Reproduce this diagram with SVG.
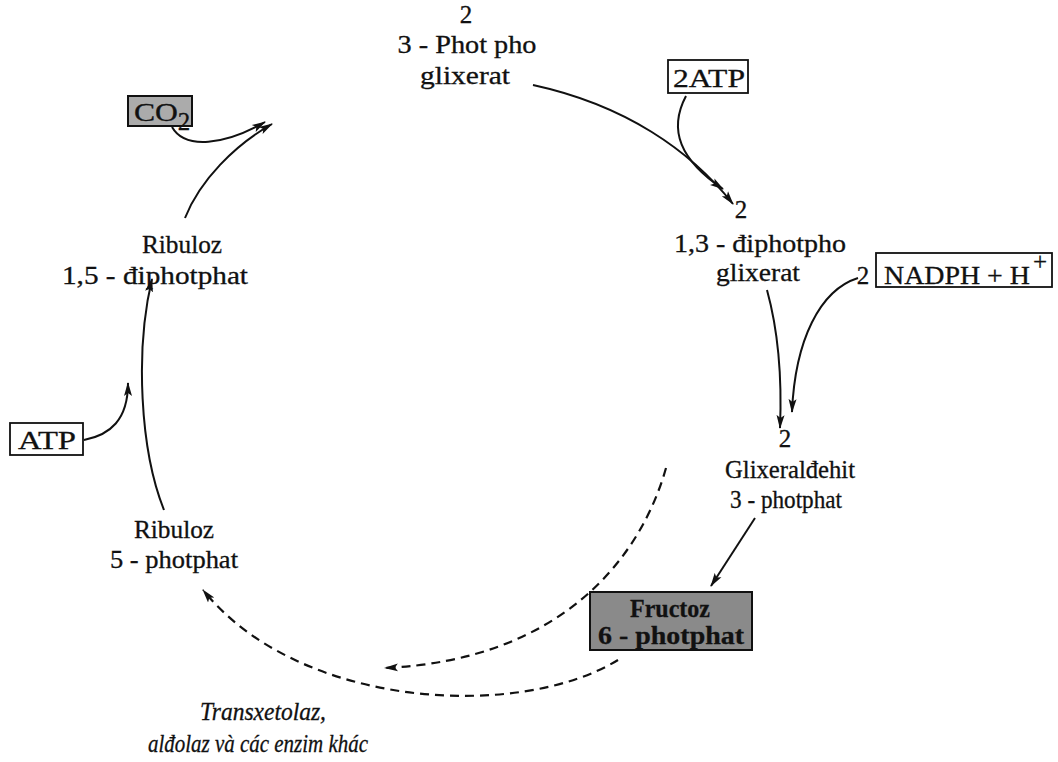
<svg xmlns="http://www.w3.org/2000/svg" width="1058" height="762" viewBox="0 0 1058 762">
  <style>
    .t { font-family: "Liberation Serif", "Times New Roman", serif; font-size: 25px; fill: #111; stroke: #111; stroke-width: 0.3; text-anchor: middle; }
    .it { font-style: italic; font-size: 25px; }
    .box { fill: none; stroke: #111; stroke-width: 1.8; }
    .gray { fill: #ababab; stroke: #111; stroke-width: 2; }
    .dark { fill: #8a8a8a; stroke: #111; stroke-width: 2; }
    .ln { fill: none; stroke: #111; stroke-width: 2; marker-end: url(#ah); }
    .dash { fill: none; stroke: #111; stroke-width: 2.2; stroke-dasharray: 9 6; marker-end: url(#ah); }
  </style>
  <defs>
    <marker id="ah" markerUnits="userSpaceOnUse" markerWidth="15" markerHeight="10" refX="13" refY="5" orient="auto">
      <path d="M0,1 L14,5 L0,9 L3,5 z" fill="#111"/>
    </marker>
  </defs>
  <rect width="1058" height="762" fill="#fff"/>

  <!-- connectors -->
  <g id="connectors">
    <path class="ln" d="M185,218 C200,180 235,145 272,124"/>
    <path class="ln" d="M533,85 C625,105 690,150 733,204"/>
    <path class="ln" d="M767,290 C778,330 782,380 780,428"/>
    <path class="ln" d="M858,278 C820,290 795,340 792,412"/>
    <path class="ln" d="M686,96 C668,130 680,160 723,189"/>
    <path class="ln" d="M172,127 C185,150 225,145 265,122"/>
    <path class="ln" d="M755,518 L711,586"/>
    <path class="ln" d="M164,510 C140,450 135,350 152,279"/>
    <path class="ln" d="M84,440 C110,435 128,420 128,383"/>
    <path class="dash" d="M666,468 C640,560 560,660 385,668"/>
    <path class="dash" d="M618,660 C520,720 300,710 203,590"/>
  </g>

  <!-- cycle intermediates -->
  <g id="pga">
    <text class="t" x="466" y="23">2</text>
    <text class="t" x="467" y="53" textLength="139" lengthAdjust="spacingAndGlyphs">3 - Phot pho</text>
    <text class="t" x="465" y="84" textLength="90" lengthAdjust="spacingAndGlyphs">glixerat</text>
  </g>
  <g id="bpg">
    <text class="t" x="741" y="218">2</text>
    <text class="t" x="760" y="252" textLength="172" lengthAdjust="spacingAndGlyphs">1,3 - điphotpho</text>
    <text class="t" x="758" y="281" textLength="84" lengthAdjust="spacingAndGlyphs">glixerat</text>
  </g>
  <g id="g3p">
    <text class="t" x="785" y="447">2</text>
    <text class="t" x="790" y="478" textLength="130" lengthAdjust="spacingAndGlyphs">Glixeralđehit</text>
    <text class="t" x="786" y="508" textLength="112" lengthAdjust="spacingAndGlyphs">3 - photphat</text>
  </g>
  <g id="f6p">
    <rect class="dark" x="590" y="592" width="162" height="58"/>
    <text class="t" x="670" y="617" font-weight="bold" textLength="80" lengthAdjust="spacingAndGlyphs">Fructoz</text>
    <text class="t" x="671" y="644" font-weight="bold" textLength="146" lengthAdjust="spacingAndGlyphs">6 - photphat</text>
  </g>
  <g id="ru5p">
    <text class="t" x="174" y="538" textLength="80" lengthAdjust="spacingAndGlyphs">Ribuloz</text>
    <text class="t" x="174" y="568" textLength="128" lengthAdjust="spacingAndGlyphs">5 - photphat</text>
  </g>
  <g id="rubp">
    <text class="t" x="182" y="253" textLength="80" lengthAdjust="spacingAndGlyphs">Ribuloz</text>
    <text class="t" x="155" y="284" textLength="186" lengthAdjust="spacingAndGlyphs">1,5 - điphotphat</text>
  </g>

  <!-- inputs -->
  <g id="co2">
    <rect class="gray" x="128" y="96" width="64" height="30"/>
    <text class="t" x="156" y="121" font-size="27" textLength="44" lengthAdjust="spacingAndGlyphs">CO</text>
    <text class="t" x="184" y="130" font-size="17">2</text>
  </g>
  <g id="atp2">
    <rect class="box" x="668" y="60" width="80" height="33"/>
    <text class="t" x="709" y="87" textLength="72" lengthAdjust="spacingAndGlyphs">2ATP</text>
  </g>
  <g id="nadph">
    <text class="t" x="863" y="284">2</text>
    <rect class="box" x="876" y="253" width="176" height="34"/>
    <text class="t" x="957" y="284" textLength="146" lengthAdjust="spacingAndGlyphs">NADPH + H</text>
    <text class="t" x="1040" y="270" font-size="18">+</text>
  </g>
  <g id="atp">
    <rect class="box" x="10" y="423" width="73" height="32"/>
    <text class="t" x="47" y="449" textLength="58" lengthAdjust="spacingAndGlyphs">ATP</text>
  </g>

  <!-- enzymes -->
  <g id="enzymes">
    <text class="t it" x="263" y="720" textLength="126" lengthAdjust="spacingAndGlyphs">Transxetolaz,</text>
    <text class="t it" x="258" y="752" textLength="220" lengthAdjust="spacingAndGlyphs">alđolaz và các enzim khác</text>
  </g>
</svg>
